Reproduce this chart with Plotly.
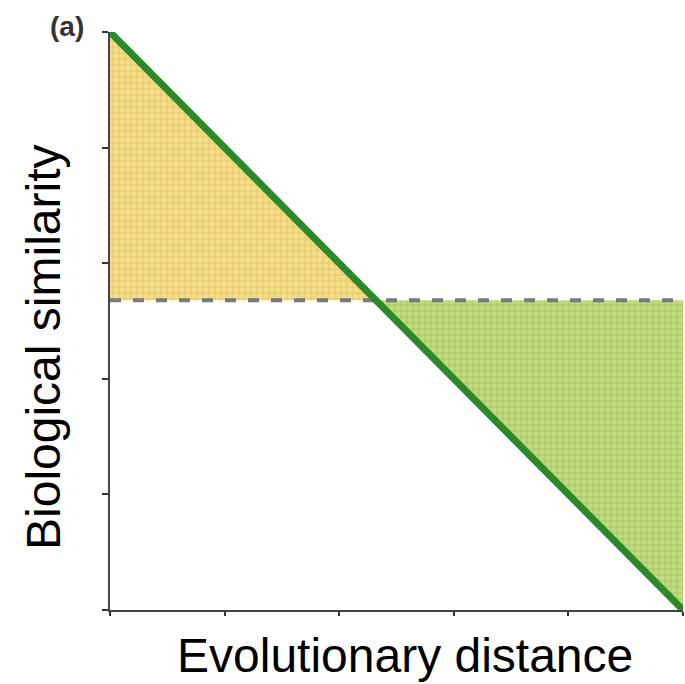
import plotly.graph_objects as go

# Data
distance = [0, 5]
similarity = [5, 0]
threshold = 2.68
x_ticks = [0, 1, 2, 3, 4, 5]
y_ticks = [0, 1, 2, 3, 4, 5]
x_title = "Evolutionary distance"
y_title = "Biological similarity"
panel_label = "(a)"

# crossing of the line with the threshold
slope = (similarity[1] - similarity[0]) / (distance[1] - distance[0])
x_cross = distance[0] + (threshold - similarity[0]) / slope

fig = go.Figure()

# yellow area (above threshold, left of crossing)
fig.add_trace(go.Scatter(
    x=[distance[0], distance[0], x_cross, distance[0]],
    y=[similarity[0], threshold, threshold, similarity[0]],
    fill="toself", mode="none",
    fillcolor="#f6de88",
    fillpattern=dict(shape="+", bgcolor="#f6de88", fgcolor="#e0c460",
                     size=6, solidity=0.25, fillmode="replace"),
    hoverinfo="skip", showlegend=False))

# green area (below threshold, right of crossing)
fig.add_trace(go.Scatter(
    x=[x_cross, distance[1], distance[1], x_cross],
    y=[threshold, threshold, similarity[1], threshold],
    fill="toself", mode="none",
    fillcolor="#c2da80",
    fillpattern=dict(shape="+", bgcolor="#c2da80", fgcolor="#a3c362",
                     size=6, solidity=0.25, fillmode="replace"),
    hoverinfo="skip", showlegend=False))

# dashed threshold line
fig.add_trace(go.Scatter(
    x=[distance[0], distance[1]], y=[threshold, threshold],
    mode="lines", line=dict(color="#7a7a7a", width=4, dash="11px,12px"),
    hoverinfo="skip", showlegend=False, cliponaxis=False))

# main green line
fig.add_trace(go.Scatter(
    x=distance, y=similarity, mode="lines",
    line=dict(color="#2a8a2a", width=7),
    hoverinfo="skip", showlegend=False, cliponaxis=False))

fig.update_layout(
    width=685, height=684,
    margin=dict(l=110, r=2, t=32, b=74),
    paper_bgcolor="white", plot_bgcolor="white",
    font=dict(family="Liberation Sans, Arial, sans-serif", color="black"),
    annotations=[
        dict(text="<b>" + panel_label + "</b>", xref="paper", yref="paper",
             x=-0.075, y=1.01, xanchor="center", yanchor="middle",
             showarrow=False, font=dict(size=28, color="#333")),
        dict(text=x_title, xref="paper", yref="paper",
             x=0.515, y=-0.079, xanchor="center", yanchor="middle",
             showarrow=False, borderpad=0, font=dict(size=48, color="black")),
        dict(text=y_title, xref="paper", yref="paper", textangle=-90,
             x=-0.117, y=0.455, xanchor="center", yanchor="middle",
             showarrow=False, font=dict(size=48, color="black")),
    ],
)
fig.update_xaxes(range=[0, 5], tickvals=x_ticks, ticktext=[""] * len(x_ticks),
                 ticks="outside", ticklen=4, tickwidth=2, tickcolor="#333",
                 showline=True, linecolor="#444", linewidth=2,
                 showgrid=False, zeroline=False)
fig.update_yaxes(range=[0, 5], tickvals=y_ticks, ticktext=[""] * len(y_ticks),
                 ticks="outside", ticklen=6, tickwidth=2, tickcolor="#333",
                 showline=True, linecolor="#444", linewidth=2,
                 showgrid=False, zeroline=False)

fig.write_html("out.html")
